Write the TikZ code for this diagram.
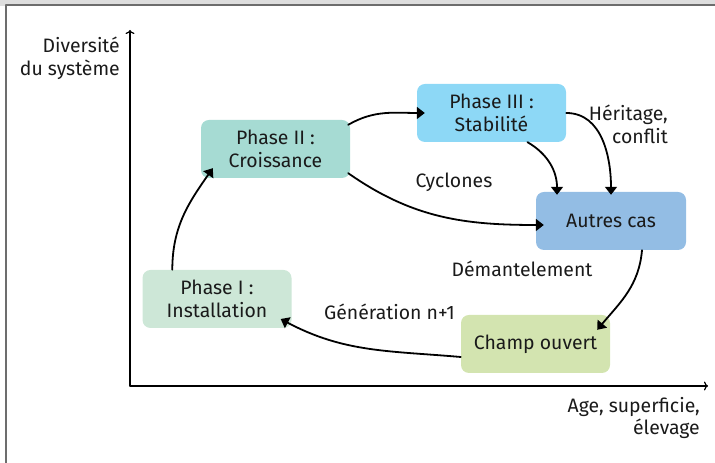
\documentclass[tikz,border=0pt]{standalone}
\usepackage{fontspec}
\setmainfont{Fira Sans}
\usetikzlibrary{arrows.meta}
\definecolor{phaseone}{HTML}{CDE7D7}
\definecolor{phasetwo}{HTML}{A6DBD3}
\definecolor{phasethree}{HTML}{8DD8F6}
\definecolor{autres}{HTML}{93BDE4}
\definecolor{champ}{HTML}{D3E4B0}
\definecolor{bandgray}{HTML}{DEDEDE}
\definecolor{framegray}{HTML}{6D6D6D}
\definecolor{ink}{HTML}{1A1A1A}
\begin{document}
\begin{tikzpicture}[x=1bp,y=1bp,line cap=round,line join=round,
  phase/.style={rounded corners=8bp,minimum width=149bp,minimum height=58bp,align=center,inner sep=0pt,text=ink,font=\fontsize{19.5}{23}\selectfont},
  flow/.style={line width=1.8bp,-{Triangle[length=8bp,width=12bp]}},
  axis/.style={line width=1.2bp,-{To[length=4bp,width=9bp]}},
  lbl/.style={inner sep=0pt,text=ink,font=\fontsize{19.5}{23}\selectfont}]
\useasboundingbox (0,0) rectangle (715,463);
\fill[bandgray] (0,457) rectangle (715,463);
\draw[framegray,line width=2bp,line cap=butt] (5.5,0) -- (5.5,457.5) -- (715,457.5);
% axes
\coordinate (o) at (130,77);
\coordinate (ytop) at (130,433);
\coordinate (xend) at (708,77);
\draw[axis] (o) -- (ytop);
\draw[axis] (o) -- (xend);
\node[lbl,align=right,anchor=east] (ylab) at (120,405) {Diversité\\du système};
\node[lbl,align=right,anchor=east] (xlab) at (700,45) {Age, superficie,\\élevage};
% phases
\node[phase,fill=phaseone] (p1) at (217,164) {Phase I :\\Installation};
\node[phase,fill=phasetwo] (p2) at (275.5,314) {Phase II :\\Croissance};
\node[phase,fill=phasethree] (p3) at (491.5,350) {Phase III :\\Stabilité};
\node[phase,fill=autres,minimum width=150bp] (p4) at (611,242) {Autres cas};
\node[phase,fill=champ] (p5) at (535.5,119) {Champ ouvert};
% flows
\draw[flow] ([xshift=30bp]p1.north west) to[out=90,in=235] ([xshift=12bp,yshift=10bp]p2.south west);
\draw[flow] ([xshift=-2bp,yshift=-5bp]p2.north east) to[out=30,in=180] ([xshift=8bp]p3.west);
\draw[flow] ([xshift=-2bp,yshift=5bp]p2.south east) to[out=-35,in=180] ([xshift=8bp,yshift=-4bp]p4.west);
\draw[flow] ([xshift=36bp]p3.south) to[out=-30,in=90] ([xshift=-54bp,yshift=-3bp]p4.north);
\draw[flow] (p3.east) to[out=0,in=90] ([yshift=-3bp]p4.north);
\draw[flow] ([xshift=31bp]p4.south) to[out=-95,in=50] ([xshift=-13bp,yshift=-15bp]p5.north east);
\draw[flow] ([yshift=-13bp]p5.west) to[out=175,in=-28] ([xshift=-11bp,yshift=-20bp]p1.east);
\node[lbl] (cyc) at (454,281) {Cyclones};
\node[lbl,align=right,anchor=east] (her) at (668,339) {Héritage,\\conflit};
\node[lbl] (dem) at (522,194) {Démantelement};
\node[lbl] (gen) at (389.5,151) {Génération n+1};
\end{tikzpicture}
\end{document}
